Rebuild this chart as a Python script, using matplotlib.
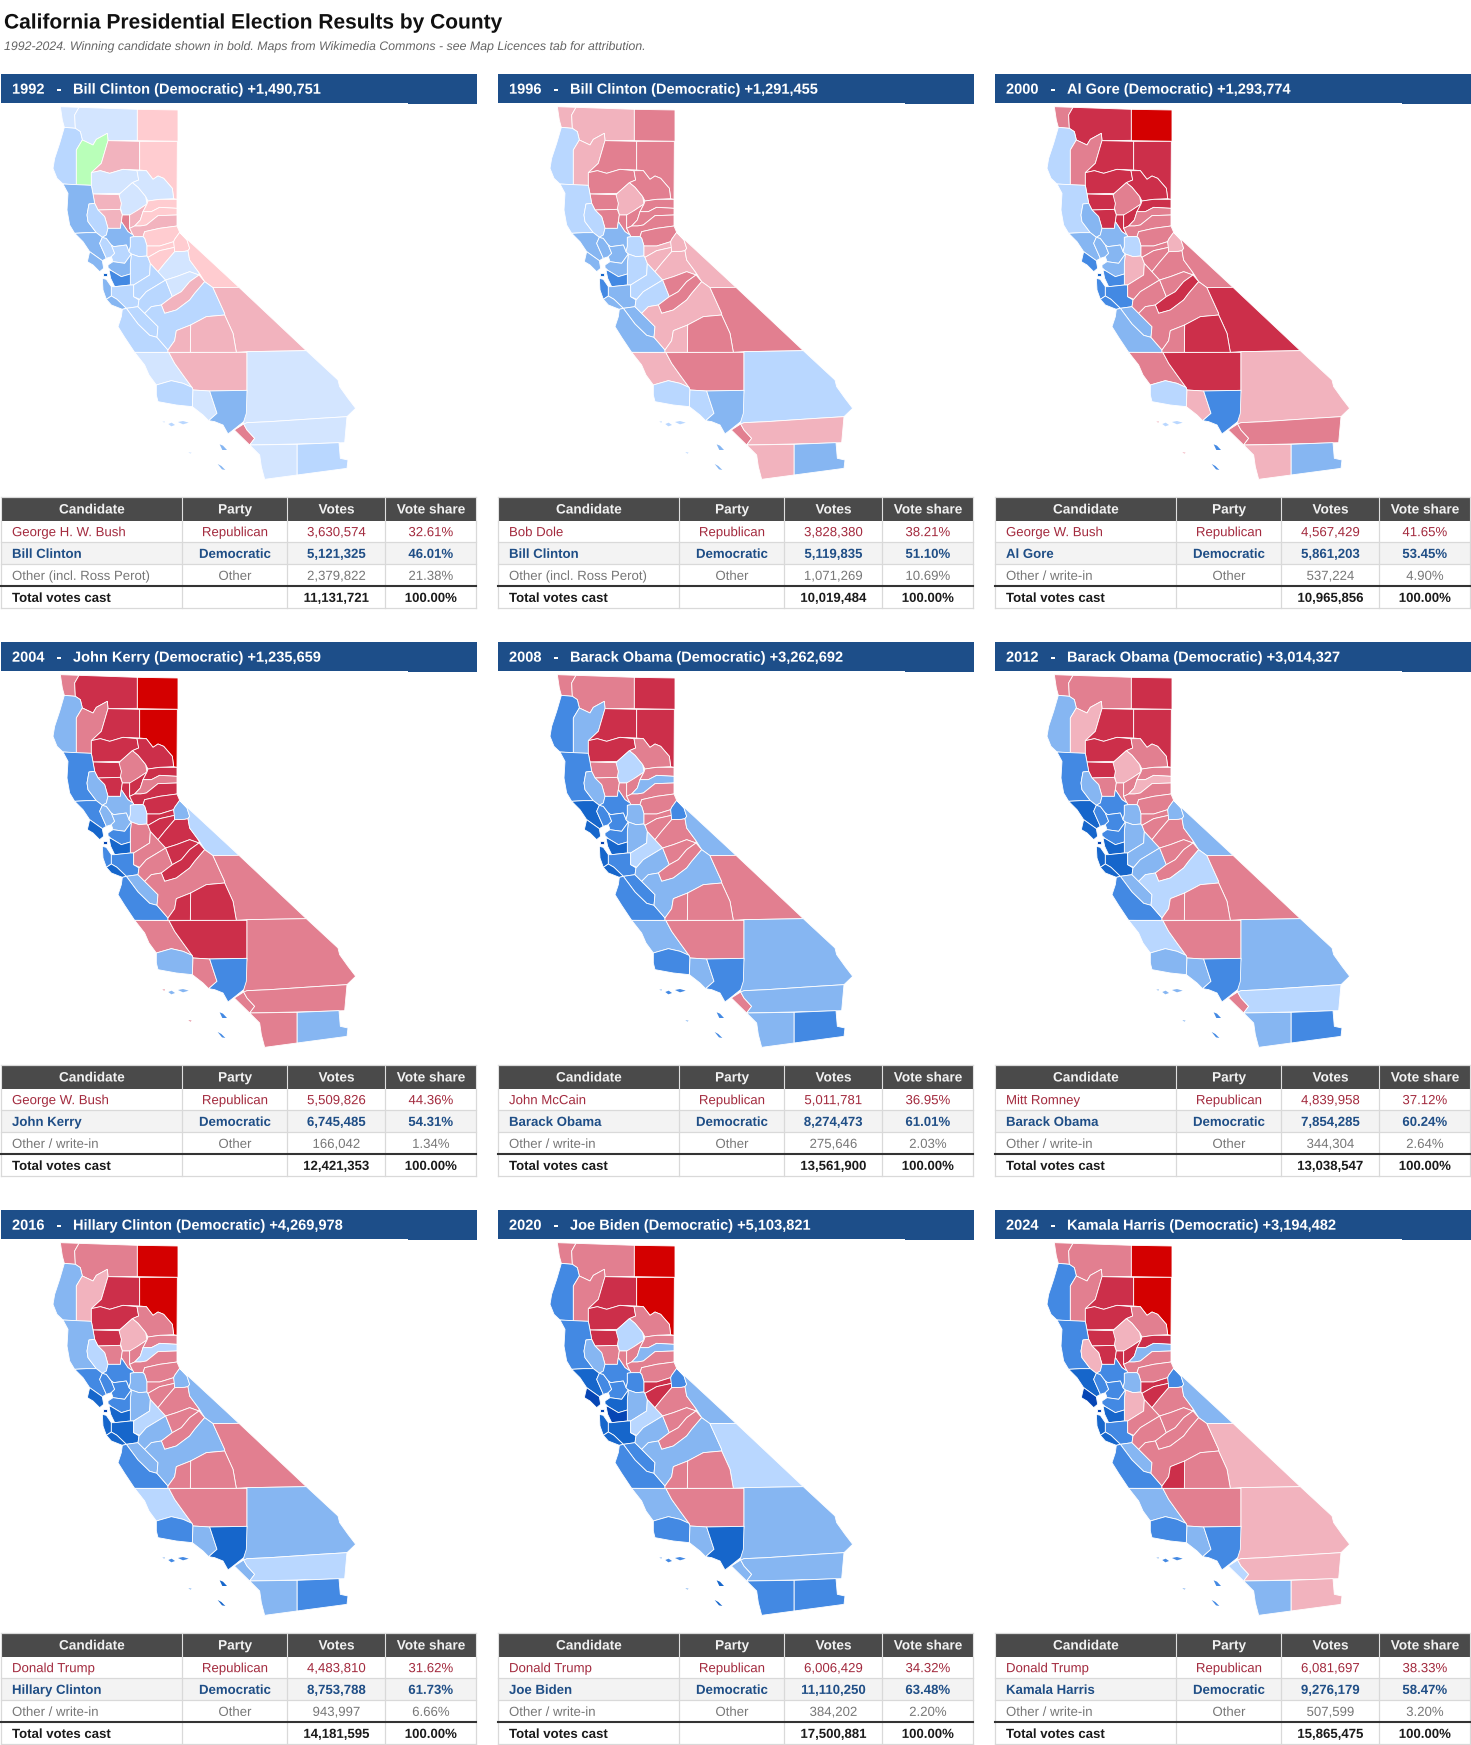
import matplotlib
matplotlib.use("Agg")
import matplotlib.pyplot as plt
import matplotlib.patheffects as pe
from matplotlib.patches import Polygon, Rectangle

plt.rcParams['font.family'] = ['Liberation Sans', 'DejaVu Sans']

TITLE = "California Presidential Election Results by County"
SUBTITLE = "1992-2024. Winning candidate shown in bold. Maps from Wikimedia Commons - see Map Licences tab for attribution."
COLUMNS = ["Candidate", "Party", "Votes", "Vote share"]

years = ["1992", "1996", "2000", "2004", "2008", "2012", "2016", "2020", "2024"]
winners = ["Bill Clinton (Democratic) +1,490,751", "Bill Clinton (Democratic) +1,291,455",
           "Al Gore (Democratic) +1,293,774", "John Kerry (Democratic) +1,235,659",
           "Barack Obama (Democratic) +3,262,692", "Barack Obama (Democratic) +3,014,327",
           "Hillary Clinton (Democratic) +4,269,978", "Joe Biden (Democratic) +5,103,821",
           "Kamala Harris (Democratic) +3,194,482"]
republicans = ["George H. W. Bush", "Bob Dole", "George W. Bush", "George W. Bush", "John McCain",
               "Mitt Romney", "Donald Trump", "Donald Trump", "Donald Trump"]
rep_votes = ["3,630,574", "3,828,380", "4,567,429", "5,509,826", "5,011,781", "4,839,958", "4,483,810", "6,006,429", "6,081,697"]
rep_share = ["32.61%", "38.21%", "41.65%", "44.36%", "36.95%", "37.12%", "31.62%", "34.32%", "38.33%"]
democrats = ["Bill Clinton", "Bill Clinton", "Al Gore", "John Kerry", "Barack Obama", "Barack Obama",
             "Hillary Clinton", "Joe Biden", "Kamala Harris"]
dem_votes = ["5,121,325", "5,119,835", "5,861,203", "6,745,485", "8,274,473", "7,854,285", "8,753,788", "11,110,250", "9,276,179"]
dem_share = ["46.01%", "51.10%", "53.45%", "54.31%", "61.01%", "60.24%", "61.73%", "63.48%", "58.47%"]
others = ["Other (incl. Ross Perot)", "Other (incl. Ross Perot)", "Other / write-in", "Other / write-in",
          "Other / write-in", "Other / write-in", "Other / write-in", "Other / write-in", "Other / write-in"]
oth_votes = ["2,379,822", "1,071,269", "537,224", "166,042", "275,646", "344,304", "943,997", "384,202", "507,599"]
oth_share = ["21.38%", "10.69%", "4.90%", "1.34%", "2.03%", "2.64%", "6.66%", "2.20%", "3.20%"]
tot_votes = ["11,131,721", "10,019,484", "10,965,856", "12,421,353", "13,561,900", "13,038,547", "14,181,595", "17,500,881", "15,865,475"]

shade_colors = {"D1": "#D3E5FF", "D2": "#B9D7FF", "D3": "#86B6F2", "D4": "#4389E3", "D5": "#1666CB", "D6": "#0645B4",
                "R1": "#FFCCD0", "R2": "#F2B3BE", "R3": "#E27F90", "R4": "#CC2F4A", "R5": "#D40000", "G": "#B9FFB9"}

county_shapes = {
 "Del Norte": [(52,20),(108,22),(95,45),(97,85),(64,82),(58,60)],
 "Siskiyou": [(108,22),(283,28),(283,121),(195,122),(193,100),(160,118),(150,135),(118,120),(112,95),(97,85),(95,45)],
 "Modoc": [(283,28),(405,30),(405,124),(283,122)],
 "Humboldt": [(64,82),(97,85),(112,95),(118,120),(100,150),(100,255),(60,252),(42,235),(30,205),(35,175),(50,130)],
 "Trinity": [(118,120),(150,135),(160,118),(193,100),(195,122),(175,190),(145,218),(145,256),(100,255),(100,150)],
 "Shasta": [(195,122),(290,124),(290,210),(240,208),(200,220),(172,212),(145,218),(175,190)],
 "Lassen": [(290,124),(403,124),(402,298),(392,296),(388,265),(362,235),(345,228),(330,238),(310,212),(290,210)],
 "Tehama": [(145,218),(172,212),(200,220),(240,208),(282,212),(287,240),(268,248),(232,280),(150,282),(145,256)],
 "Plumas": [(282,212),(310,212),(330,238),(345,228),(362,235),(388,265),(392,296),(350,298),(315,303),(308,290),(285,262),(268,248),(287,240)],
 "Butte": [(268,248),(285,262),(308,290),(312,312),(285,330),(270,345),(238,345),(232,322),(235,310),(225,290),(232,280)],
 "Glenn": [(150,282),(228,284),(235,310),(232,328),(165,330),(155,310)],
 "Colusa": [(165,330),(232,328),(238,345),(235,365),(232,385),(195,385),(185,350)],
 "Mendocino": [(60,252),(145,256),(150,282),(155,310),(138,312),(132,345),(135,365),(160,398),(130,398),(95,400),(80,375),(72,330),(75,280)],
 "Lake": [(138,312),(155,310),(165,330),(185,350),(195,385),(190,405),(178,412),(160,398),(135,365),(132,345)],
 "Sutter": [(238,345),(260,345),(260,385),(270,405),(255,395),(235,365)],
 "Yuba": [(260,345),(285,330),(312,312),(300,335),(292,360),(275,378),(260,385)],
 "Sierra": [(315,303),(350,298),(402,298),(402,325),(350,322),(325,335),(300,335),(312,312)],
 "Nevada": [(300,335),(325,335),(350,322),(402,325),(402,345),(345,347),(310,375),(292,378),(275,378),(292,360)],
 "Placer": [(260,385),(275,378),(292,378),(310,375),(345,347),(402,345),(402,378),(350,385),(305,395),(300,410),(273,410),(270,405)],
 "El Dorado": [(305,395),(350,385),(402,378),(410,397),(395,418),(392,425),(350,438),(312,438),(305,415),(300,410)],
 "Sonoma": [(95,400),(130,398),(160,398),(178,412),(170,430),(190,475),(178,482),(140,455),(120,425)],
 "Napa": [(178,412),(190,415),(205,435),(215,460),(205,470),(190,475),(170,430)],
 "Yolo": [(195,385),(232,385),(235,365),(255,395),(270,405),(273,410),(262,412),(262,440),(258,455),(250,435),(212,440),(205,435),(190,415),(178,412),(190,405)],
 "Solano": [(212,440),(250,435),(258,455),(265,462),(245,490),(210,485),(205,470),(215,460),(205,435)],
 "Marin": [(140,455),(178,482),(182,505),(170,515),(150,495),(133,485)],
 "Sacramento": [(262,412),(273,410),(300,410),(305,415),(312,438),(312,468),(288,470),(265,462),(258,455),(262,440)],
 "San Joaquin": [(265,462),(288,470),(312,468),(315,472),(322,490),(320,525),(272,555),(262,555),(262,490)],
 "Contra Costa": [(195,495),(210,485),(245,490),(265,462),(262,490),(262,522),(235,530),(205,512),(195,503)],
 "Alameda": [(198,510),(205,512),(235,530),(262,522),(262,555),(215,560),(203,535)],
 "San Francisco": [(180,519),(191,519),(191,529),(180,529)],
 "San Mateo": [(178,535),(190,538),(205,560),(205,588),(190,598),(180,570)],
 "Santa Clara": [(205,560),(215,560),(262,555),(272,555),(272,590),(288,600),(285,620),(250,625),(222,598),(205,588)],
 "Santa Cruz": [(190,598),(205,588),(222,598),(250,625),(238,628),(205,615)],
 "San Benito": [(250,625),(285,620),(305,640),(320,655),(345,680),(342,712),(320,706),(285,672)],
 "Monterey": [(238,628),(250,625),(285,672),(320,706),(342,712),(375,750),(375,757),(275,757),(245,712),(225,680),(235,650)],
 "Stanislaus": [(272,555),(320,525),(322,490),(345,515),(368,540),(310,575),(290,598),(272,590)],
 "Merced": [(290,598),(310,575),(368,540),(388,590),(355,615),(325,620),(305,640),(285,620),(288,600)],
 "Amador": [(312,438),(350,438),(392,425),(395,442),(350,452),(315,472),(312,468)],
 "Calaveras": [(315,472),(350,452),(395,442),(395,455),(365,490),(345,515),(322,490)],
 "Alpine": [(410,397),(432,420),(440,445),(435,452),(425,454),(395,455),(392,425),(395,418)],
 "Tuolumne": [(345,515),(365,490),(395,455),(425,454),(435,452),(440,480),(468,518),(468,525),(440,515),(400,530),(368,540)],
 "Mono": [(410,397),(588,562),(510,563),(485,545),(468,518),(440,480),(435,452),(440,445),(432,420)],
 "Mariposa": [(368,540),(400,530),(440,515),(468,525),(440,545),(415,575),(388,590)],
 "Madera": [(355,615),(388,590),(415,575),(440,545),(468,525),(485,545),(455,580),(440,600),(400,630),(365,640)],
 "Fresno": [(305,640),(325,620),(355,615),(365,640),(400,630),(440,600),(455,580),(485,545),(510,563),(545,640),(545,645),(490,650),(443,675),(400,692),(395,722),(375,750),(342,712),(345,680),(320,655)],
 "Inyo": [(510,563),(588,562),(790,752),(612,755),(580,757),(570,700),(545,645),(545,640)],
 "Tulare": [(443,675),(490,650),(545,645),(570,700),(580,757),(442,757)],
 "Kings": [(400,692),(443,675),(442,757),(375,757),(375,750),(395,722)],
 "San Luis Obispo": [(275,757),(378,758),(395,790),(420,825),(447,862),(420,850),(385,842),(340,855),(318,825),(305,795)],
 "Kern": [(378,758),(612,757),(612,871),(500,873),(450,870),(447,862),(420,825),(395,790)],
 "San Bernardino": [(612,755),(790,752),(885,840),(890,860),(915,895),(938,925),(912,950),(830,955),(680,965),(612,968),(602,975),(602,965),(612,871)],
 "Santa Barbara": [(340,855),(385,842),(420,850),(447,862),(450,870),(448,920),(400,915),(345,905),(340,885)],
 "Ventura": [(450,870),(500,873),(522,940),(497,962),(480,945),(448,920)],
 "Los Angeles": [(500,873),(612,871),(610,940),(602,965),(577,985),(555,1002),(540,975),(515,965),(497,962),(522,940)],
 "Orange": [(602,972),(612,990),(635,1015),(620,1035),(574,990)],
 "Riverside": [(612,968),(680,965),(830,955),(912,950),(905,1028),(760,1032),(620,1035),(635,1015),(612,990),(602,972)],
 "Imperial": [(762,1033),(888,1028),(892,1075),(915,1080),(912,1105),(762,1125)],
 "San Diego": [(620,1035),(762,1033),(762,1125),(665,1138),(655,1100),(650,1065)],
}
county_names = list(county_shapes)

island_shapes = {
 "Santa Barbara": [[(376,972),(386,968),(396,975),(385,979)], [(405,966),(420,963),(437,968),(420,973)]],
 "Los Angeles": [[(530,1033),(540,1037),(552,1050),(538,1050)], [(524,1092),(535,1098),(547,1110),(537,1108)]],
 "Ventura": [[(436,1056),(446,1058),(442,1061)], [(358,965),(366,964),(364,968)]],
}

# One shade per county, in county_names order
s1992 = "D1 D1 R1 D2 G R2 R1 D1 D1 D1 R2 R2 D3 D2 R3 R2 R1 R1 R2 R1 D3 D2 D3 D2 D3 D2 D2 D3 D4 D5 D3 D2 D3 D2 D2 D2 D2 R1 R1 R1 D1 R1 D1 R2 D2 R2 R2 R2 D1 R2 D1 D2 D1 D3 R3 D1 D2 D1".split()
s1996 = "R2 R2 R3 D2 R2 R3 R3 R3 R3 R2 R3 R3 D2 D2 R3 R3 R3 R3 R3 R3 D3 D3 D3 D3 D3 D2 D2 D3 D4 D5 D4 D3 D3 D3 D3 D2 D2 R2 R2 R2 R2 R2 R3 R3 R2 R3 R3 R2 R2 R3 D2 D2 D2 D3 R3 R2 D3 R2".split()
s2000 = "R3 R4 R5 D2 R3 R4 R4 R4 R4 R3 R4 R4 D2 D3 R4 R4 R4 R3 R3 R3 D3 D3 D3 D3 D4 D2 R2 D3 D4 D5 D4 D4 D4 D3 D3 R3 R3 R3 R3 R2 R3 R3 R3 R4 R3 R4 R4 R3 R3 R4 R2 D2 R2 D4 R3 R3 D3 R2".split()
s2004 = "R3 R4 R5 D3 R3 R4 R5 R4 R4 R3 R4 R4 D4 D3 R4 R4 R4 R3 R4 R4 D4 D3 D3 D3 D5 D2 R3 D4 D5 D6 D4 D4 D5 D3 D4 R3 R3 R4 R4 D3 R4 D2 R4 R4 R3 R3 R4 R4 R3 R4 R3 D3 R3 D4 R3 R3 D3 R3".split()
s2008 = "R3 R3 R4 D4 D3 R4 R4 R4 R3 D2 R3 R3 D4 D3 R3 R3 R3 D3 R3 R3 D5 D4 D4 D4 D5 D3 D3 D4 D5 D6 D5 D4 D5 D4 D4 D2 D3 R3 R3 D4 R3 D3 R3 R3 D3 R3 R3 R3 D3 R3 D3 D4 D3 D4 R3 D3 D4 D3".split()
s2012 = "R3 R3 R4 D3 R2 R4 R4 R4 R3 R2 R4 R3 D4 D3 R3 R3 R3 R2 R3 R3 D5 D4 D4 D4 D5 D3 D3 D4 D5 D6 D5 D5 D5 D3 D4 D3 D3 R3 R3 D3 R3 D3 R3 R3 D2 R3 R3 R3 D2 R3 D3 D3 D3 D4 R3 D2 D4 D3".split()
s2016 = "R3 R3 R5 D3 R2 R4 R5 R4 R3 R2 R4 R3 D3 D2 R3 R3 R3 D2 R3 R3 D4 D4 D4 D4 D5 D3 D3 D4 D5 D6 D5 D5 D5 D3 D4 D2 D3 R3 R3 D3 R3 D3 R3 R3 D3 R3 R3 R3 D2 R3 D3 D4 D3 D5 D3 D2 D4 D3".split()
s2020 = "R3 R3 R5 D4 R3 R4 R5 R4 R3 D2 R4 R3 D4 D3 R3 R3 R3 D3 R3 R3 D5 D4 D4 D4 D6 D4 D3 D5 D6 D6 D5 D5 D5 D4 D4 D2 D3 R4 R4 D4 R3 D3 R3 R3 D3 D2 R3 R3 D3 R3 D3 D4 D3 D5 D3 D3 D4 D4".split()
s2024 = "R3 R3 R5 D4 R3 R4 R5 R4 R3 R2 R4 R4 D4 R2 R4 R4 R4 D3 R3 R3 D5 D4 D4 D4 D6 D3 R2 D4 D5 D6 D5 D4 D5 D3 D4 R3 R3 R4 R4 D4 R3 D3 R3 R3 R3 R2 R3 R4 D3 R3 R2 D4 D3 D4 D2 R2 R2 D3".split()
shades = [s1992, s1996, s2000, s2004, s2008, s2012, s2016, s2020, s2024]

W, H = 1471, 1745
fig = plt.figure(figsize=(W / 100, H / 100), dpi=100, facecolor="white")
page = fig.add_axes([0, 0, 1, 1])
page.set_xlim(0, W)
page.set_ylim(H, 0)
page.axis("off")

VECTOR = [pe.Normal()]

def label(x, y, s, size, **kw):
    """Text placed on its baseline at an exact sub-pixel position."""
    page.text(x, y, s, fontsize=size * 0.72, va="baseline", path_effects=VECTOR, zorder=5, **kw)

label(4, 28.5, TITLE, 20.95, fontweight="bold", color="#111111")
label(4, 50, SUBTITLE, 12.35, style="italic", color="#666666")

COL_X = [1, 182.5, 287.5, 385.5, 476.5]
ROW_Y = [423, 446.5, 468, 490, 512, 534]   # offsets below the header top
REP, DEM, OTH, INK = "#A32A3E", "#1F4E86", "#777777", "#1A1A1A"

for i, year in enumerate(years):
    x0 = 497 * (i % 3)
    y0 = 74 + 568 * (i // 3)

    page.add_patch(Rectangle((x0 + 1, y0), 476, 29, fc="#1D4E89", ec="none"))
    page.add_patch(Rectangle((x0 + 408, y0 + 29), 69, 1, fc="#1D4E89", ec="none"))
    base = y0 + 19.7
    label(x0 + 12, base, year, 14.6, color="white", fontweight="bold")
    label(x0 + 56.5, base, "-", 14.6, color="white", fontweight="bold")
    label(x0 + 73, base, winners[i], 14.6, color="white", fontweight="bold")

    m = fig.add_axes([(x0 + 43) / W, 1 - (y0 + 26 + 390) / H, 330 / W, 390 / H])
    m.set_xlim(0, 990)
    m.set_ylim(1170, 0)
    m.axis("off")
    for name, shade in zip(county_names, shades[i]):
        c = shade_colors[shade]
        m.add_patch(Polygon(county_shapes[name], closed=True, fc=c, ec="#FFFFFF", lw=0.6, joinstyle="round"))
        for isl in island_shapes.get(name, []):
            m.add_patch(Polygon(isl, closed=True, fc=c, ec="none"))

    T = [y0 + r for r in ROW_Y]
    page.add_patch(Rectangle((x0 + COL_X[0], T[0]), COL_X[4] - COL_X[0], T[1] - T[0], fc="#4A4A4A", ec="none"))
    page.add_patch(Rectangle((x0 + COL_X[0], T[2]), COL_X[4] - COL_X[0], T[3] - T[2], fc="#F3F3F3", ec="none"))
    for yy in (T[0], T[2], T[3], T[5]):
        page.plot([x0 + COL_X[0], x0 + COL_X[4]], [yy, yy], color="#D9D9D9", lw=0.9)
    page.plot([x0 + COL_X[0], x0 + COL_X[4]], [T[4], T[4]], color="#333333", lw=1.5, zorder=4)
    for j, cx in enumerate(COL_X):
        page.plot([x0 + cx, x0 + cx], [T[0], T[1]], color="#E0E0E0", lw=0.8, zorder=3)
        page.plot([x0 + cx, x0 + cx], [T[1], T[5]], color="#D9D9D9", lw=0.9, zorder=3)

    mids = [(COL_X[j] + COL_X[j + 1]) / 2 for j in range(4)]
    for j, head in enumerate(COLUMNS):
        label(x0 + mids[j], T[0] + 16.5, head, 13.6, color="#F2F2F2", fontweight="bold", ha="center")
    rows = [([republicans[i], "Republican", rep_votes[i], rep_share[i]], REP, "normal"),
            ([democrats[i], "Democratic", dem_votes[i], dem_share[i]], DEM, "bold"),
            ([others[i], "Other", oth_votes[i], oth_share[i]], OTH, "normal"),
            (["Total votes cast", "", tot_votes[i], "100.00%"], INK, "bold")]
    for r, (cells, col, wt) in enumerate(rows):
        yc = (T[r + 1] + T[r + 2]) / 2 + 4.9
        label(x0 + 12, yc, cells[0], 13.2, color=col, fontweight=wt)
        for j in (1, 2, 3):
            label(x0 + mids[j], yc, cells[j], 13.2, color=col, fontweight=wt, ha="center")

fig.savefig("out.png", dpi=100, facecolor="white")
